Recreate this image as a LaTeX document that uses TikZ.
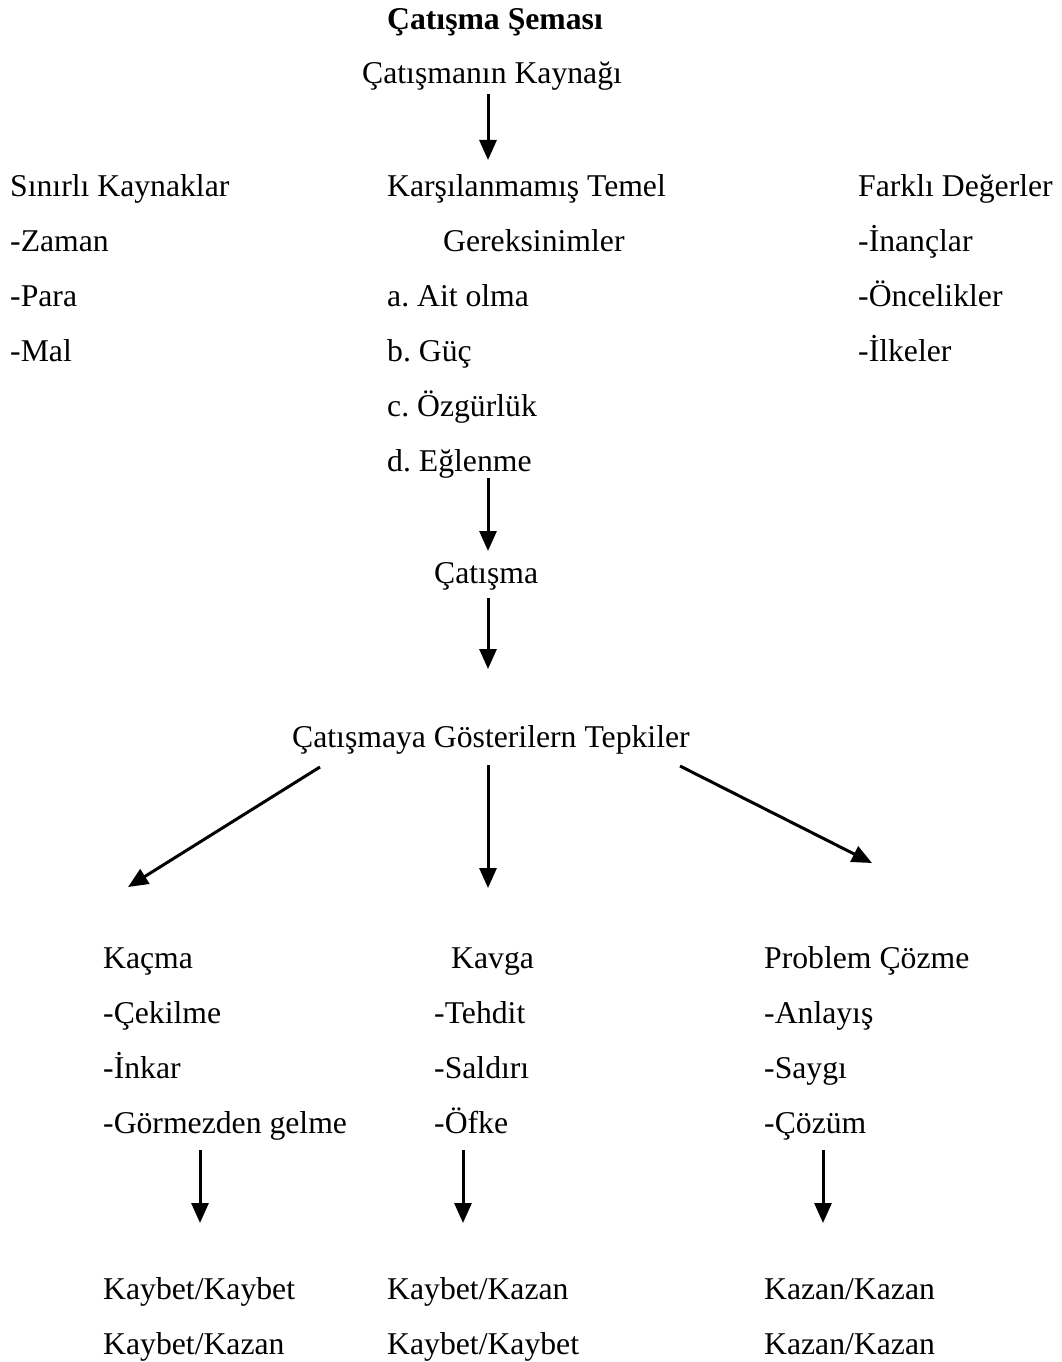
\documentclass[tikz,border=0pt]{standalone}
\usepackage{fontspec}
\setmainfont{Liberation Serif}
\usetikzlibrary{arrows.meta}
\frenchspacing
\begin{document}
\frenchspacing
\begin{tikzpicture}[x=1pt,y=-1pt,
  txt/.style={anchor=base west,inner sep=0pt,font=\fontsize{31.7}{38}\selectfont},
  ttl/.style={anchor=base,inner sep=0pt,font=\fontsize{31.7}{38}\selectfont\bfseries},
  arr/.style={line width=3pt,-{Triangle[length=20pt,width=17pt]}}]
\useasboundingbox (0,0) rectangle (1062,1362);
% title
\node[ttl] (title) at (495,30) {Çatışma Şeması};
\node[txt] (kaynak) at (362,84) {Çatışmanın Kaynağı};
% left column
\node[txt] (sinirli) at (10,196) {Sınırlı Kaynaklar};
\node[txt] (zaman) at (10,251) {-Zaman};
\node[txt] (para) at (10,306) {-Para};
\node[txt] (mal) at (10,361) {-Mal};
% middle column
\node[txt] (karsi) at (387,196) {Karşılanmamış Temel};
\node[txt] (gerek) at (443,251) {Gereksinimler};
\node[txt] (ait) at (387,306) {a. Ait olma};
\node[txt] (guc) at (387,361) {b. Güç};
\node[txt] (ozg) at (387,416) {c. Özgürlük};
\node[txt] (egl) at (387,471) {d. Eğlenme};
% right column
\node[txt] (farkli) at (858,196) {Farklı Değerler};
\node[txt] (inanc) at (858,251) {-İnançlar};
\node[txt] (oncel) at (858,306) {-Öncelikler};
\node[txt] (ilke) at (858,361) {-İlkeler};
% conflict
\node[txt] (catisma) at (434,583) {Çatışma};
\node[txt] (tepki) at (292,747) {Çatışmaya Gösterilern Tepkiler};
% responses
\node[txt] (kacma) at (103,968) {Kaçma};
\node[txt] (cekil) at (103,1023) {-Çekilme};
\node[txt] (inkar) at (103,1078) {-İnkar};
\node[txt] (gorm) at (103,1133) {-Görmezden gelme};
\node[txt] (kavga) at (451,968) {Kavga};
\node[txt] (tehd) at (434,1023) {-Tehdit};
\node[txt] (sald) at (434,1078) {-Saldırı};
\node[txt] (ofke) at (434,1133) {-Öfke};
\node[txt] (probl) at (764,968) {Problem Çözme};
\node[txt] (anla) at (764,1023) {-Anlayış};
\node[txt] (sayg) at (764,1078) {-Saygı};
\node[txt] (cozum) at (764,1133) {-Çözüm};
% outcomes
\node[txt] (o1a) at (103,1299) {Kaybet/Kaybet};
\node[txt] (o1b) at (103,1354) {Kaybet/Kazan};
\node[txt] (o2a) at (387,1299) {Kaybet/Kazan};
\node[txt] (o2b) at (387,1354) {Kaybet/Kaybet};
\node[txt] (o3a) at (764,1299) {Kazan/Kazan};
\node[txt] (o3b) at (764,1354) {Kazan/Kazan};
% arrow coordinates
\coordinate (a1s) at (488,94);   \coordinate (a1e) at (488,160);
\coordinate (a2s) at (488,478);  \coordinate (a2e) at (488,551);
\coordinate (a3s) at (488,598);  \coordinate (a3e) at (488,669);
\coordinate (a4s) at (320,767);  \coordinate (a4e) at (128,887);
\coordinate (a5s) at (488,765);  \coordinate (a5e) at (488,888);
\coordinate (a6s) at (680,766);  \coordinate (a6e) at (872,863);
\coordinate (a7s) at (200,1150); \coordinate (a7e) at (200,1223);
\coordinate (a8s) at (463,1150); \coordinate (a8e) at (463,1223);
\coordinate (a9s) at (823,1150); \coordinate (a9e) at (823,1223);
\draw[arr] (a1s) -- (a1e);
\draw[arr] (a2s) -- (a2e);
\draw[arr] (a3s) -- (a3e);
\draw[arr] (a4s) -- (a4e);
\draw[arr] (a5s) -- (a5e);
\draw[arr] (a6s) -- (a6e);
\draw[arr] (a7s) -- (a7e);
\draw[arr] (a8s) -- (a8e);
\draw[arr] (a9s) -- (a9e);
\end{tikzpicture}
\end{document}
